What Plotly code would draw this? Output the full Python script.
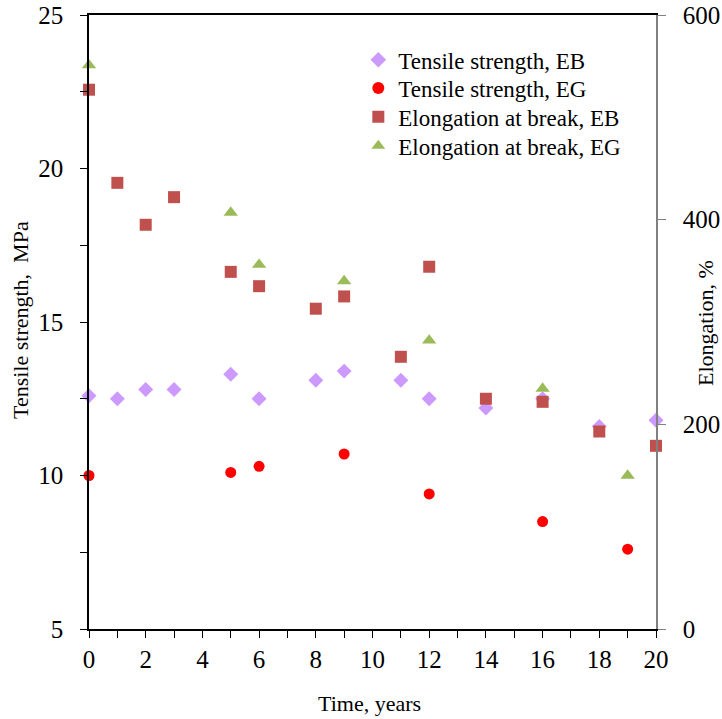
import plotly.graph_objects as go

# Data
ts_eb_years = [0, 1, 2, 3, 5, 6, 8, 9, 11, 12, 14, 16, 18, 20]
ts_eb_values = [12.6, 12.5, 12.8, 12.8, 13.3, 12.5, 13.1, 13.4, 13.1, 12.5, 12.2, 12.5, 11.6, 11.8]

ts_eg_years = [0, 5, 6, 9, 12, 16, 19]
ts_eg_values = [10.0, 10.1, 10.3, 10.7, 9.4, 8.5, 7.6]

el_eb_years = [0, 1, 2, 3, 5, 6, 8, 9, 11, 12, 14, 16, 18, 20]
el_eb_values = [527, 436, 395, 422, 349, 335, 313, 325, 266, 354, 225, 222, 193, 179]

el_eg_years = [0, 5, 6, 9, 12, 16, 19]
el_eg_values = [551, 407, 356, 340, 282, 235, 150]

x_tick_vals = [0, 2, 4, 6, 8, 10, 12, 14, 16, 18, 20]
y1_tick_vals = [5, 10, 15, 20, 25]
y2_tick_vals = [0, 200, 400, 600]

FONT = "Liberation Serif, Times New Roman, serif"

fig = go.Figure()
fig.add_trace(go.Scatter(
    x=ts_eb_years, y=ts_eb_values, mode="markers", name="Tensile strength, EB",
    marker=dict(symbol="diamond", size=11.5, color="#CC99FF"), cliponaxis=False,
    legend="legend"))
fig.add_trace(go.Scatter(
    x=ts_eg_years, y=ts_eg_values, mode="markers", name="Tensile strength, EG",
    marker=dict(symbol="circle", size=11, color="#FF0000"), cliponaxis=False,
    legend="legend2"))
fig.add_trace(go.Scatter(
    x=el_eb_years, y=el_eb_values, mode="markers", name="Elongation at break, EB",
    marker=dict(symbol="square", size=12, color="#C0504D"), yaxis="y2", cliponaxis=False,
    legend="legend3"))
fig.add_trace(go.Scatter(
    x=el_eg_years, y=el_eg_values, mode="markers", name="Elongation at break, EG",
    marker=dict(symbol="triangle-up", size=12.5, color="#9BBB59"), yaxis="y2", cliponaxis=False,
    legend="legend4"))

def leg(yc):
    return dict(x=0.475, y=yc, xanchor="left", yanchor="middle",
                bgcolor="rgba(0,0,0,0)", font=dict(family=FONT, size=23),
                itemsizing="constant")

fig.update_layout(
    width=722, height=719,
    margin=dict(l=89, r=66, t=15, b=90),
    paper_bgcolor="white", plot_bgcolor="white",
    font=dict(family=FONT, size=22, color="black"),
    showlegend=True,
    legend=leg(0.927), legend2=leg(0.881), legend3=leg(0.834), legend4=leg(0.787),
    xaxis=dict(range=[0, 20], tickvals=x_tick_vals, ticks="outside", ticklen=7,
               tickcolor="black", showline=True, linecolor="black", linewidth=1.5,
               mirror=True, showgrid=False, zeroline=False, automargin=False,
               tickfont=dict(size=25), ticklabeloverflow="allow",
               minor=dict(dtick=1, ticks="outside", ticklen=7, tickcolor="black")),
    yaxis=dict(range=[5, 25], tickvals=y1_tick_vals, ticks="outside", ticklen=7,
               tickcolor="black", showline=True, linecolor="black", linewidth=1.5,
               showgrid=False, zeroline=False, tickfont=dict(size=25), automargin=False,
               ticklabelstandoff=12, ticklabeloverflow="allow",
               minor=dict(dtick=2.5, ticks="outside", ticklen=7, tickcolor="black")),
    yaxis2=dict(range=[0, 600], tickvals=y2_tick_vals, overlaying="y", side="right",
                ticks="outside", ticklen=8, tickcolor="#808080", automargin=False,
                showline=True, linecolor="#808080", linewidth=1.5,
                showgrid=False, zeroline=False, tickfont=dict(size=25),
                ticklabelstandoff=12, ticklabeloverflow="allow"),
    annotations=[
        dict(text="Time, years", xref="paper", yref="paper", x=0.494, y=-0.122,
             showarrow=False, font=dict(size=22), xanchor="center", yanchor="middle"),
        dict(text="Tensile strength,  MPa", xref="paper", yref="paper", x=-0.122, y=0.503,
             showarrow=False, font=dict(size=22), textangle=-90,
             xanchor="center", yanchor="middle"),
        dict(text="Elongation, %", xref="paper", yref="paper", x=1.086, y=0.498,
             showarrow=False, font=dict(size=22), textangle=-90,
             xanchor="center", yanchor="middle"),
    ],
)

# remove the default 8px page margin so the figure sits at the window's top-left
fig.write_html("out.html", config={"displayModeBar": False},
               post_script="document.body.style.margin='0px';")
